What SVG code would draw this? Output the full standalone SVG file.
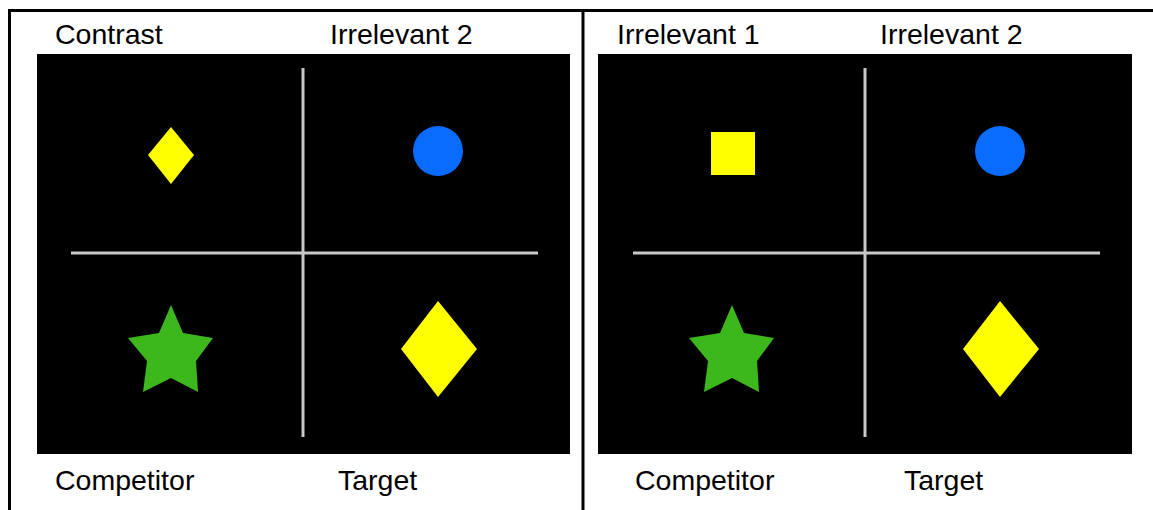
<svg xmlns="http://www.w3.org/2000/svg" width="1153" height="510" viewBox="0 0 1153 510">
<style>
.lbl{font-family:"Liberation Sans",Arial,sans-serif;font-size:28.5px;fill:#000}
.frame{stroke:#000;stroke-width:3;fill:none}
.cross{stroke:#c8c8c8;stroke-width:3}
.yel{fill:#ffff00}
.blue{fill:#0a6cff}
.green{fill:#3cb81c}
</style>
<defs>
<polygon id="star" points="0,-47 12,-19 42,-14 25,9 27,40 0,26 -28,40 -24,9 -43,-14 -12,-19"/>
</defs>
<rect width="1153" height="510" fill="#fff"/>
<g id="frame">
<line class="frame" x1="8" y1="10.5" x2="1153" y2="10.5"/>
<line class="frame" x1="9.5" y1="9" x2="9.5" y2="510"/>
<line class="frame" x1="583" y1="9" x2="583" y2="510"/>
</g>
<g id="panel-left">
<rect x="37" y="54" width="533" height="400" fill="#000"/>
<line class="cross" x1="303" y1="68" x2="303" y2="437"/>
<line class="cross" x1="71" y1="253" x2="538" y2="253"/>
</g>
<g id="panel-right">
<rect x="598" y="54" width="534" height="400" fill="#000"/>
<line class="cross" x1="865" y1="68" x2="865" y2="437"/>
<line class="cross" x1="633" y1="253" x2="1100" y2="253"/>
</g>
<g id="contrast-diamond"><polygon class="yel" points="171,127 194,155 171,184 148,155"/></g>
<g id="irrelevant2-left"><circle class="blue" cx="438" cy="151" r="25"/></g>
<g id="competitor-left"><use href="#star" class="green" x="171" y="352"/></g>
<g id="target-left"><polygon class="yel" points="438,301 477,349 438,397 401,349"/></g>
<g id="irrelevant1-square"><rect class="yel" x="711" y="132" width="44" height="43"/></g>
<g id="irrelevant2-right"><circle class="blue" cx="1000" cy="151" r="25"/></g>
<g id="competitor-right"><use href="#star" class="green" x="732" y="352"/></g>
<g id="target-right"><polygon class="yel" points="1000,301 1039,349 1000,397 963,349"/></g>
<g id="labels">
<text class="lbl" x="55" y="44">Contrast</text>
<text class="lbl" x="330" y="44">Irrelevant 2</text>
<text class="lbl" x="55" y="490">Competitor</text>
<text class="lbl" x="338" y="490">Target</text>
<text class="lbl" x="617" y="44">Irrelevant 1</text>
<text class="lbl" x="880" y="44">Irrelevant 2</text>
<text class="lbl" x="635" y="490">Competitor</text>
<text class="lbl" x="904" y="490">Target</text>
</g>
</svg>
